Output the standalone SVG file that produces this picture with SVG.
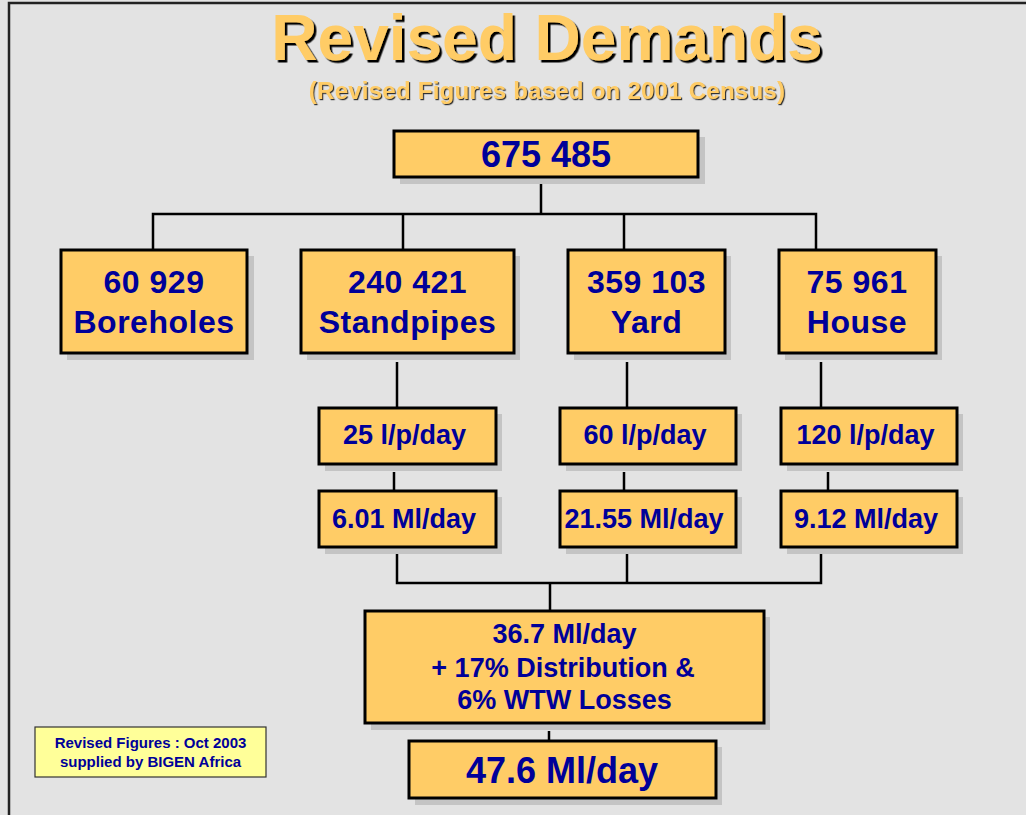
<svg xmlns="http://www.w3.org/2000/svg" width="1026" height="815" viewBox="0 0 1026 815">
<defs>
<filter id="ts" x="-5%" y="-20%" width="110%" height="140%"><feDropShadow dx="2.5" dy="2.5" stdDeviation="0" flood-color="#000" flood-opacity="1"/></filter>
<filter id="ts2" x="-5%" y="-20%" width="110%" height="140%"><feDropShadow dx="1.2" dy="1.2" stdDeviation="0" flood-color="#333" flood-opacity="1"/></filter>
</defs>
<style>
.bg{fill:#e3e3e3}
.frame{stroke:#222;stroke-width:2.5;fill:none}
.sh{fill:#c4c4c4}
.box{fill:#ffcc66;stroke:#000;stroke-width:3}
.t{font-family:"Liberation Sans",Arial,sans-serif;font-weight:bold;fill:#000099;text-anchor:middle}
.big{font-size:32px;letter-spacing:0.5px}
.mid{font-size:27px}
.title{font-family:"Liberation Sans",Arial,sans-serif;font-weight:bold;fill:#ffcc66;text-anchor:middle}
.conn{stroke:#000;stroke-width:2.5;fill:none}
.leg{fill:#ffff99;stroke:#333;stroke-width:1.2}
</style>
<rect class="bg" x="0" y="0" width="1026" height="815"/>
<path class="frame" d="M9,815 V3 H1026"/>

<g id="title">
<text class="title" x="547" y="60" font-size="64" filter="url(#ts)">Revised Demands</text>
<text class="title" x="547" y="99" font-size="24" letter-spacing="0.25" filter="url(#ts2)">(Revised Figures based on 2001 Census)</text>
</g>

<g id="connectors">
<path class="conn" d="M541,177 V214 M153,250 V214 H816 V250 M403,214 V250 M624,214 V250"/>
<path class="conn" d="M397,362 V408 M627,362 V408 M821,362 V408"/>
<path class="conn" d="M394,472 V491 M624,472 V491 M828,472 V491"/>
<path class="conn" d="M397,554 V583 H821 V554 M627,554 V583 M550,583 V611"/>
<path class="conn" d="M549,731 V741"/>
</g>

<g id="n-total">
<rect class="sh" x="400" y="137" width="305" height="47"/>
<rect class="box" x="394" y="131" width="304" height="46"/>
<text class="t" x="546" y="167" font-size="36">675 485</text>
</g>

<g id="n-boreholes">
<rect class="sh" x="67" y="256" width="187" height="104"/>
<rect class="box" x="61" y="250" width="186" height="103"/>
<text class="t big" x="154" y="293">60 929</text>
<text class="t big" x="154" y="333">Boreholes</text>
</g>

<g id="n-standpipes">
<rect class="sh" x="307" y="256" width="213" height="104"/>
<rect class="box" x="301" y="250" width="213" height="103"/>
<text class="t big" x="407.5" y="293">240 421</text>
<text class="t big" x="407.5" y="333">Standpipes</text>
</g>

<g id="n-yard">
<rect class="sh" x="574" y="256" width="157" height="104"/>
<rect class="box" x="568" y="250" width="157" height="103"/>
<text class="t big" x="646.5" y="293">359 103</text>
<text class="t big" x="646.5" y="333">Yard</text>
</g>

<g id="n-house">
<rect class="sh" x="785" y="256" width="157" height="104"/>
<rect class="box" x="779" y="250" width="157" height="103"/>
<text class="t big" x="857" y="293">75 961</text>
<text class="t big" x="857" y="333">House</text>
</g>

<g id="n-std-rate">
<rect class="sh" x="325" y="414" width="177" height="57"/>
<rect class="box" x="319" y="408" width="177" height="56"/>
<text class="t mid" x="404.5" y="444">25 l/p/day</text>
</g>
<g id="n-yard-rate">
<rect class="sh" x="566" y="414" width="176" height="57"/>
<rect class="box" x="560" y="408" width="176" height="56"/>
<text class="t mid" x="645" y="444">60 l/p/day</text>
</g>
<g id="n-house-rate">
<rect class="sh" x="787" y="414" width="176" height="57"/>
<rect class="box" x="781" y="408" width="176" height="56"/>
<text class="t mid" x="865.5" y="444">120 l/p/day</text>
</g>

<g id="n-std-vol">
<rect class="sh" x="325" y="497" width="177" height="57"/>
<rect class="box" x="319" y="491" width="177" height="56"/>
<text class="t mid" x="404" y="528">6.01 Ml/day</text>
</g>
<g id="n-yard-vol">
<rect class="sh" x="566" y="497" width="176" height="57"/>
<rect class="box" x="560" y="491" width="176" height="56"/>
<text class="t mid" x="644" y="528">21.55 Ml/day</text>
</g>
<g id="n-house-vol">
<rect class="sh" x="787" y="497" width="176" height="57"/>
<rect class="box" x="781" y="491" width="176" height="56"/>
<text class="t mid" x="866" y="528">9.12 Ml/day</text>
</g>

<g id="n-sum">
<rect class="sh" x="371" y="617" width="399" height="113"/>
<rect class="box" x="365" y="611" width="399" height="112"/>
<text class="t mid" x="564.5" y="643">36.7 Ml/day</text>
<text class="t mid" x="563" y="677">+ 17% Distribution &amp;</text>
<text class="t mid" x="564.5" y="709">6% WTW Losses</text>
</g>

<g id="n-final">
<rect class="sh" x="415" y="747" width="307" height="58"/>
<rect class="box" x="409" y="741" width="307" height="57"/>
<text class="t" x="562" y="783" font-size="36">47.6 Ml/day</text>
</g>

<g id="legend">
<rect class="leg" x="35" y="727" width="231" height="50"/>
<text class="t" x="150.5" y="748" font-size="15" fill="#000080">Revised Figures : Oct 2003</text>
<text class="t" x="150.5" y="767" font-size="15" fill="#000080">supplied by BIGEN Africa</text>
</g>
</svg>
